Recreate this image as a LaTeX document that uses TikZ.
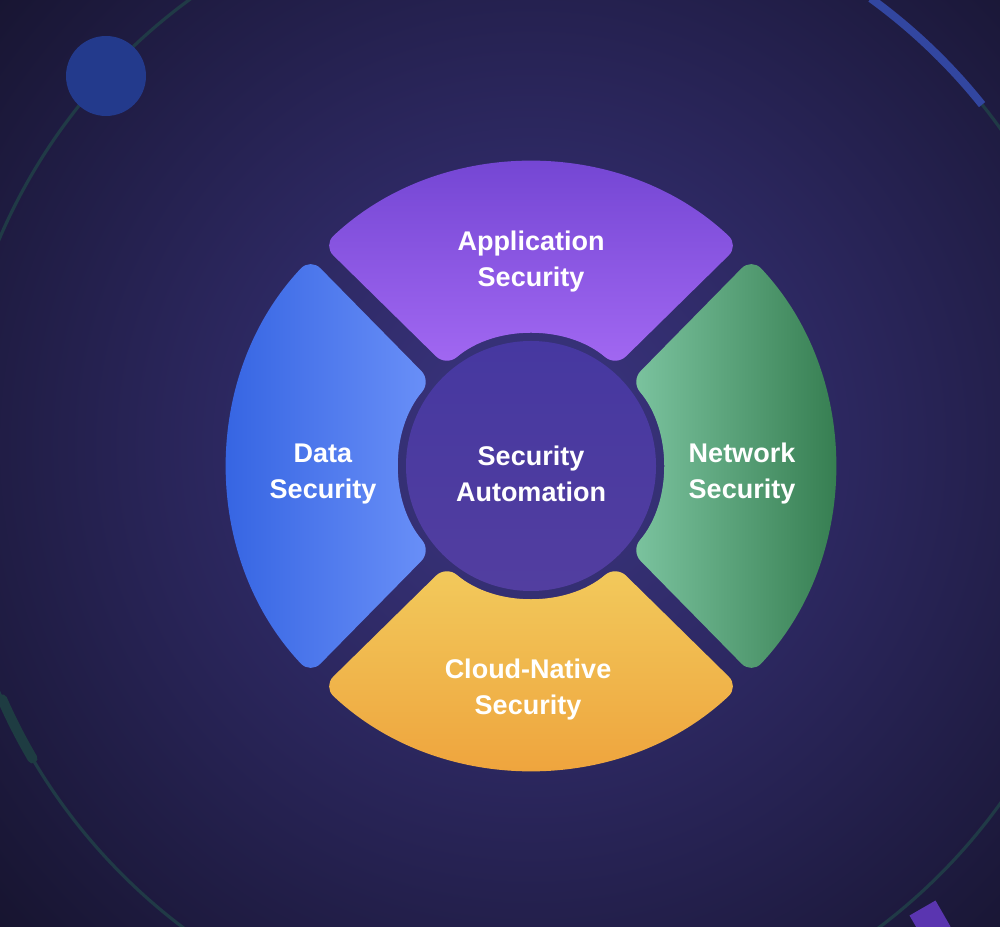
\documentclass[tikz,border=0pt]{standalone}
\usepackage{fontspec}
\setmainfont{Liberation Sans}
\begin{document}
\begin{tikzpicture}[x=1pt,y=1pt,scale=0.5,
  lbl/.style={text=white,font=\fontsize{13.5}{18}\selectfont\bfseries,align=center},
  seg/.style={rounded corners=7pt}]
\definecolor{bg}{HTML}{100E20}
\definecolor{glow}{RGB}{60,54,132}
\useasboundingbox (0,0) rectangle (1000,926);
\clip (0,0) rectangle (1000,926);
\fill[bg] (0,0) rectangle (1000,926);
\shade[inner color=glow, outer color=bg] (531,480) circle (850pt);
\begin{scope}[shift={(531,460)}]
  \draw[color={rgb,255:red,32;green,58;blue,70},line width=1.6pt] (0,0) circle (578pt);
  \draw[color={rgb,255:red,50;green,70;blue,160},line width=4pt] (38.7:578pt) arc[start angle=38.7,end angle=54,radius=578pt];
  \draw[color={rgb,255:red,30;green,60;blue,66},line width=5pt,line cap=round] (203.8:578pt) arc[start angle=203.8,end angle=210.4,radius=578pt];
  \shade[seg,top color={rgb,255:red,111;green,66;blue,208},bottom color={rgb,255:red,162;green,104;blue,242}]
    (46.7:303pt) arc[start angle=46.7,end angle=133.3,radius=303pt] -- (130.4:131pt) arc[start angle=130.4,end angle=49.6,radius=131pt] -- cycle;
  \shade[seg,left color={rgb,255:red,124;green,196;blue,160},right color={rgb,255:red,46;green,118;blue,72}]
    (-43.3:303pt) arc[start angle=-43.3,end angle=43.3,radius=303pt] -- (40.4:131pt) arc[start angle=40.4,end angle=-40.4,radius=131pt] -- cycle;
  \shade[seg,top color={rgb,255:red,242;green,202;blue,92},bottom color={rgb,255:red,238;green,160;blue,58}]
    (-133.3:303pt) arc[start angle=-133.3,end angle=-46.7,radius=303pt] -- (-49.6:131pt) arc[start angle=-49.6,end angle=-130.4,radius=131pt] -- cycle;
  \shade[seg,left color={rgb,255:red,48;green,96;blue,224},right color={rgb,255:red,106;green,144;blue,248}]
    (136.7:303pt) arc[start angle=136.7,end angle=223.3,radius=303pt] -- (220.4:131pt) arc[start angle=220.4,end angle=139.6,radius=131pt] -- cycle;
  \shade[top color={rgb,255:red,70;green,56;blue,160},bottom color={rgb,255:red,82;green,62;blue,160}] (0,0) circle (125pt);
\end{scope}
\fill[color={rgb,255:red,35;green,58;blue,140}] (106,850) circle (40pt);
\fill[color={rgb,255:red,90;green,53;blue,176},rotate around={30:(930,5)}] (915,-10) rectangle (945,20);
\node[lbl] (app) at (531,664) {Application\\Security};
\node[lbl] (data) at (323,452) {Data\\Security};
\node[lbl] (auto) at (531,452) {Security\\Automation};
\node[lbl] (net) at (742,452) {Network\\Security};
\node[lbl] (cloud) at (528,236) {Cloud-Native\\Security};
\end{tikzpicture}
\end{document}
